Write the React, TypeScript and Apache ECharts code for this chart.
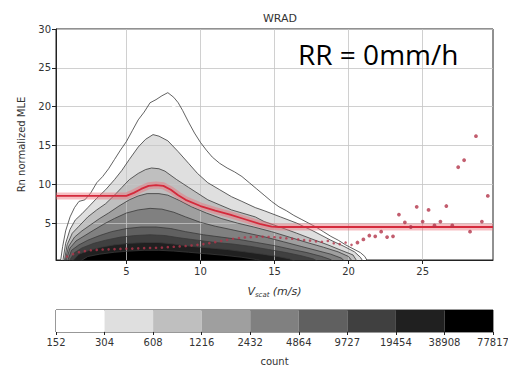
import React, { useEffect, useRef } from "react";
import * as echarts from "echarts";

// ---- axis ticks / labels ----
const xTicks = [5, 10, 15, 20, 25];
const yTicks = [5, 10, 15, 20, 25, 30];
const countLevels = ["152", "304", "608", "1216", "2432", "4864", "9727", "19454", "38908", "77817"];
const levelColors = ["#ffffff", "#dfdfdf", "#bfbfbf", "#9f9f9f", "#808080", "#606060", "#404040", "#202020", "#000000"];

// ---- contour boundaries (upper edge of each filled level), [Vscat, MLE] ----
const contour152 = [
  [0.55, 0], [0.7, 2], [0.9, 4], [1.2, 5.8], [1.5, 7.0], [1.8, 7.8], [2.2, 8.0], [2.6, 8.9], [3.0, 10.2],
  [3.4, 11.0], [3.8, 12.0], [4.2, 13.2], [4.6, 14.4], [5.0, 15.5], [5.4, 16.9], [5.8, 18.3], [6.2, 19.3],
  [6.6, 20.5], [7.0, 20.9], [7.4, 21.4], [7.8, 21.8], [8.2, 21.2], [8.5, 20.5], [8.8, 19.5], [9.2, 18.0],
  [9.6, 16.6], [10.0, 15.4], [10.4, 14.4], [10.8, 13.5], [11.3, 12.7], [11.8, 12.1], [12.3, 11.6],
  [12.8, 11.0], [13.3, 10.2], [13.8, 9.4], [14.3, 8.6], [14.8, 7.8], [15.3, 7.1], [15.8, 6.6], [16.3, 6.0],
  [16.8, 5.5], [17.3, 5.0], [17.8, 4.5], [18.3, 3.9], [18.8, 3.3], [19.3, 2.8], [19.8, 2.2], [20.3, 1.7],
  [20.8, 1.2], [21.1, 0.7], [21.3, 0],
];
const contour304 = [
  [0.7, 0], [0.9, 2.4], [1.2, 4.2], [1.55, 5.4], [2.0, 6.2], [2.4, 7.0], [3.0, 8.2], [3.6, 9.3], [4.2, 10.6],
  [4.7, 11.8], [5.2, 13.2], [5.8, 14.8], [6.3, 15.8], [6.8, 16.4], [7.2, 16.2], [7.8, 15.6], [8.5, 14.2],
  [9.2, 12.7], [9.8, 11.4], [10.5, 10.2], [11.3, 9.3], [12.1, 8.4], [12.8, 7.8], [13.7, 7.0], [14.3, 6.6],
  [15.4, 5.8], [16.5, 5.0], [17.6, 4.0], [18.8, 2.8], [19.7, 2.0], [20.4, 1.3], [20.8, 0.6], [21.0, 0],
];
const contour608 = [
  [0.8, 0], [1.0, 2.2], [1.35, 3.7], [1.8, 4.6], [2.4, 5.8], [3.0, 6.7], [3.6, 7.5], [4.2, 8.6], [4.7, 9.6],
  [5.2, 10.6], [5.8, 11.4], [6.3, 11.9], [6.7, 12.1], [7.2, 12.0], [7.6, 11.7], [8.4, 10.6], [9.2, 9.6],
  [10.5, 8.0], [12.1, 6.7], [13.7, 5.8], [14.3, 5.2], [15.5, 4.4], [16.5, 3.7], [17.6, 2.9], [18.6, 2.2],
  [19.5, 1.5], [20.3, 0.9], [20.6, 0],
];
const contour1216 = [
  [0.85, 0], [1.1, 2.0], [1.5, 3.2], [2.0, 4.0], [2.6, 4.8], [3.2, 5.6], [3.8, 6.3], [4.5, 7.2], [5.2, 8.0],
  [5.8, 8.5], [6.4, 8.8], [7.2, 8.8], [7.8, 8.6], [8.6, 7.9], [9.4, 7.1], [10.4, 6.3], [11.4, 5.6],
  [12.5, 5.0], [13.6, 4.5], [14.8, 3.9], [16.0, 3.2], [17.2, 2.5], [18.3, 1.9], [19.3, 1.3], [20.0, 0.7],
  [20.3, 0],
];
const contour2432 = [
  [0.9, 0], [1.2, 1.8], [1.6, 2.7], [2.2, 3.4], [2.8, 4.1], [3.5, 4.9], [4.2, 5.6], [5.0, 6.3], [5.8, 6.7],
  [6.6, 6.9], [7.4, 6.8], [8.2, 6.4], [9.0, 5.8], [10.0, 5.1], [11.0, 4.6], [12.0, 4.2], [13.2, 3.7],
  [14.4, 3.2], [15.6, 2.6], [16.8, 2.0], [17.8, 1.5], [18.8, 1.0], [19.5, 0.5], [19.8, 0],
];
const contour4864 = [
  [1.0, 0], [1.3, 1.5], [1.8, 2.2], [2.4, 2.8], [3.2, 3.4], [4.0, 3.9], [5.0, 4.3], [6.0, 4.5], [7.0, 4.5],
  [8.0, 4.3], [9.0, 3.9], [10.2, 3.5], [11.4, 3.2], [12.6, 2.9], [13.8, 2.5], [15.0, 2.1], [16.2, 1.6],
  [17.2, 1.2], [18.2, 0.7], [18.8, 0.3], [19.0, 0],
];
const contour9727 = [
  [1.1, 0], [1.5, 1.2], [2.0, 1.8], [2.8, 2.4], [3.6, 2.8], [4.6, 3.2], [5.6, 3.4], [6.6, 3.5], [7.6, 3.4],
  [8.6, 3.1], [9.8, 2.8], [11.0, 2.5], [12.2, 2.3], [13.4, 2.0], [14.6, 1.6], [15.8, 1.2], [16.8, 0.8],
  [17.6, 0.4], [18.0, 0],
];
const contour19454 = [
  [1.3, 0], [1.8, 1.0], [2.5, 1.5], [3.3, 1.9], [4.2, 2.2], [5.2, 2.4], [6.2, 2.5], [7.2, 2.5], [8.2, 2.3],
  [9.4, 2.0], [10.6, 1.8], [11.8, 1.6], [13.0, 1.3], [14.2, 1.0], [15.2, 0.7], [16.0, 0.4], [16.5, 0],
];
const contour38908 = [
  [1.8, 0], [2.4, 0.7], [3.2, 1.0], [4.2, 1.25], [5.2, 1.4], [6.2, 1.5], [7.2, 1.5], [8.2, 1.4], [9.2, 1.25],
  [10.4, 1.05], [11.6, 0.85], [12.8, 0.6], [13.8, 0.3], [14.4, 0],
];
const contourSpecks = [[7.2, 22.8], [6.3, 21.6], [8.2, 19.8]];

// ---- red mean curve ----
const meanX = [0.25, 5.0, 5.5, 6.0, 6.5, 7.0, 7.5, 8.0, 8.5, 9.0, 10.0, 11.0, 12.0, 13.0, 14.0, 14.8, 15.3, 29.75];
const meanY = [8.5, 8.5, 8.9, 9.4, 9.8, 9.9, 9.8, 9.3, 8.6, 8.0, 7.2, 6.6, 6.1, 5.5, 4.9, 4.55, 4.5, 4.5];

// ---- red points (per-bin median) ----
const dotX = [
  1.0, 1.4, 1.8, 2.2, 2.6, 3.0, 3.4, 3.8, 4.2, 4.6, 5.0, 5.4, 5.8, 6.2, 6.6, 7.0, 7.4, 7.8, 8.2, 8.6,
  9.0, 9.4, 9.8, 10.2, 10.6, 11.0, 11.4, 11.8, 12.2, 12.6, 13.0, 13.4, 13.8, 14.2, 14.6, 15.0, 15.4, 15.8,
  16.2, 16.6, 17.0, 17.4, 17.8, 18.2, 18.6, 19.0, 19.4, 19.8, 20.2, 20.6, 21.0, 21.4, 21.8, 22.2, 22.6,
  23.0, 23.4, 23.8, 24.2, 24.6, 25.0, 25.4, 25.8, 26.2, 26.6, 27.0, 27.4, 27.8, 28.2, 28.6, 29.0, 29.4,
];
const dotY = [
  0.7, 1.0, 1.25, 1.4, 1.5, 1.55, 1.6, 1.62, 1.65, 1.68, 1.7, 1.72, 1.75, 1.78, 1.8, 1.82, 1.85, 1.9, 1.95, 2.0,
  2.05, 2.12, 2.2, 2.3, 2.42, 2.55, 2.7, 2.85, 2.98, 3.08, 3.15, 3.2, 3.25, 3.25, 3.22, 3.18, 3.12, 3.05,
  2.98, 2.9, 2.82, 2.75, 2.65, 2.6, 2.7, 2.4, 2.3, 2.5, 2.2, 2.5, 2.9, 3.4, 3.3, 3.9, 3.2,
  3.3, 6.1, 5.1, 4.5, 7.1, 5.2, 6.7, 4.7, 5.2, 7.2, 4.7, 12.2, 13.1, 3.9, 16.2, 5.2, 8.5,
];

const contours = [contour152, contour304, contour608, contour1216, contour2432, contour4864, contour9727, contour19454, contour38908];

const FONT = "DejaVu Sans";

export default function App() {
  const ref = useRef<HTMLDivElement>(null);
  useEffect(() => {
    if (!ref.current) return;
    const chart = echarts.init(ref.current, undefined, { renderer: "svg" });
    const meanData = meanX.map((x, i) => [x, meanY[i]]);
    const dotData = dotX.map((x, i) => [x, dotY[i]]);

    const fillSeries = contours.map((pts, i) => ({
      type: "line",
      xAxisIndex: 0,
      yAxisIndex: 0,
      data: pts,
      symbol: "none",
      lineStyle: { width: 0, opacity: 0 },
      areaStyle: { color: levelColors[i], opacity: 1, origin: "start" },
      silent: true,
      z: 1,
    }));
    const outlineSeries = contours.map((pts) => ({
      type: "line",
      xAxisIndex: 0,
      yAxisIndex: 0,
      data: pts,
      symbol: "none",
      lineStyle: { color: "#3a3a3a", width: 0.8 },
      silent: true,
      z: 3,
    }));

    const option: any = {
      animation: false,
      backgroundColor: "#ffffff",
      title: {
        text: "WRAD",
        left: 275,
        top: 8,
        textAlign: "center",
        textStyle: { fontFamily: FONT, fontSize: 11, fontWeight: "normal", color: "#333" },
      },
      graphic: [
        {
          type: "text",
          x: 298,
          y: 54,
          z: 10,
          style: {
            text: "RR = 0mm/h",
            font: '28px "Open Sans"',
            fill: "#000",
            verticalAlign: "middle",
            align: "left",
          },
        },
      ],
      grid: [
        { left: 56, right: 15, top: 29, bottom: 106, show: true, borderColor: "#222", borderWidth: 1, containLabel: false, outerBoundsMode: "none" },
        { left: 56, right: 15, top: 310, height: 22, show: true, borderColor: "#333", borderWidth: 1, containLabel: false, outerBoundsMode: "none" },
      ],
      xAxis: [
        {
          type: "value",
          gridIndex: 0,
          min: 0.25,
          max: 29.75,
          z: 2,
          axisLine: { show: true, onZero: false, lineStyle: { color: "#222", width: 1 } },
          axisTick: { show: true, length: 4, customValues: xTicks, lineStyle: { color: "#222" } },
          axisLabel: { customValues: xTicks, color: "#333", fontFamily: FONT, fontSize: 10, margin: 6 },
          splitLine: { show: true, lineStyle: { color: "#c4c4c4", width: 0.8 } },
          name: "{v|V}{s|scat} {u|(m/s)}",
          nameLocation: "middle",
          nameGap: 24,
          nameTextStyle: {
            rich: {
              v: { fontFamily: FONT, fontSize: 11, fontStyle: "italic", color: "#333", lineHeight: 14, verticalAlign: "middle" },
              s: { fontFamily: FONT, fontSize: 7, fontStyle: "italic", color: "#333", lineHeight: 14, verticalAlign: "bottom", padding: [6, 0, 0, 0] },
              u: { fontFamily: FONT, fontSize: 11, fontStyle: "italic", color: "#333", lineHeight: 14, verticalAlign: "middle" },
            },
          },
        },
        {
          type: "value",
          gridIndex: 1,
          min: 0,
          max: 9,
          interval: 1,
          axisLine: { show: false },
          axisTick: { show: true, length: 3, lineStyle: { color: "#222" } },
          axisLabel: {
            color: "#333",
            fontFamily: FONT,
            fontSize: 10,
            margin: 5,
            showMinLabel: true,
            showMaxLabel: true,
            hideOverlap: false,
            formatter: (v: number) => countLevels[Math.round(v)] ?? "",
          },
          splitLine: { show: false },
          name: "count",
          nameLocation: "middle",
          nameGap: 24,
          nameTextStyle: { fontFamily: FONT, fontSize: 10, color: "#333" },
        },
      ],
      yAxis: [
        {
          type: "value",
          gridIndex: 0,
          min: 0.25,
          max: 30,
          z: 2,
          axisLine: { show: true, onZero: false, lineStyle: { color: "#222", width: 1 } },
          axisTick: { show: true, length: 4, customValues: yTicks, lineStyle: { color: "#222" } },
          axisLabel: { customValues: yTicks, color: "#333", fontFamily: FONT, fontSize: 10, margin: 5 },
          splitLine: { show: true, lineStyle: { color: "#c4c4c4", width: 0.8 } },
          name: "Rn normalized MLE",
          nameLocation: "middle",
          nameGap: 30,
          nameTextStyle: { fontFamily: FONT, fontSize: 10, color: "#333" },
        },
        {
          type: "value",
          gridIndex: 1,
          min: 0,
          max: 1,
          show: false,
        },
      ],
      series: [
        ...fillSeries,
        ...outlineSeries,
        {
          type: "scatter",
          xAxisIndex: 0,
          yAxisIndex: 0,
          data: contourSpecks,
          symbol: "emptyCircle",
          symbolSize: 3,
          itemStyle: { color: "#fff", borderColor: "#444", borderWidth: 0.8 },
          silent: true,
          z: 3,
        },
        {
          type: "line",
          xAxisIndex: 0,
          yAxisIndex: 0,
          data: meanData,
          symbol: "none",
          lineStyle: { color: "rgba(236,110,120,0.45)", width: 7 },
          silent: true,
          z: 4,
        },
        {
          type: "line",
          xAxisIndex: 0,
          yAxisIndex: 0,
          data: meanData,
          symbol: "none",
          lineStyle: { color: "#d42a3c", width: 1.8 },
          silent: true,
          z: 5,
        },
        {
          type: "scatter",
          xAxisIndex: 0,
          yAxisIndex: 0,
          data: dotData,
          symbol: "circle",
          symbolSize: (v: number[]) => (v[0] < 20.4 ? 2.6 : 3.8),
          itemStyle: { color: "#b3344a" },
          silent: true,
          z: 6,
        },
        {
          type: "custom",
          xAxisIndex: 1,
          yAxisIndex: 1,
          data: levelColors.map((_, i) => [i, i + 1]),
          renderItem: (params: any, api: any) => {
            const i = params.dataIndex;
            const p0 = api.coord([api.value(0), 0]);
            const p1 = api.coord([api.value(1), 1]);
            return {
              type: "rect",
              shape: { x: p0[0], y: p1[1], width: p1[0] - p0[0], height: p0[1] - p1[1] },
              style: { fill: levelColors[i], stroke: "none" },
            };
          },
          silent: true,
        },
      ],
    };
    chart.setOption(option);
    return () => chart.dispose();
  }, []);
  return <div ref={ref} style={{ position: "fixed", left: 0, top: 0, width: 508, height: 366 }} />;
}
